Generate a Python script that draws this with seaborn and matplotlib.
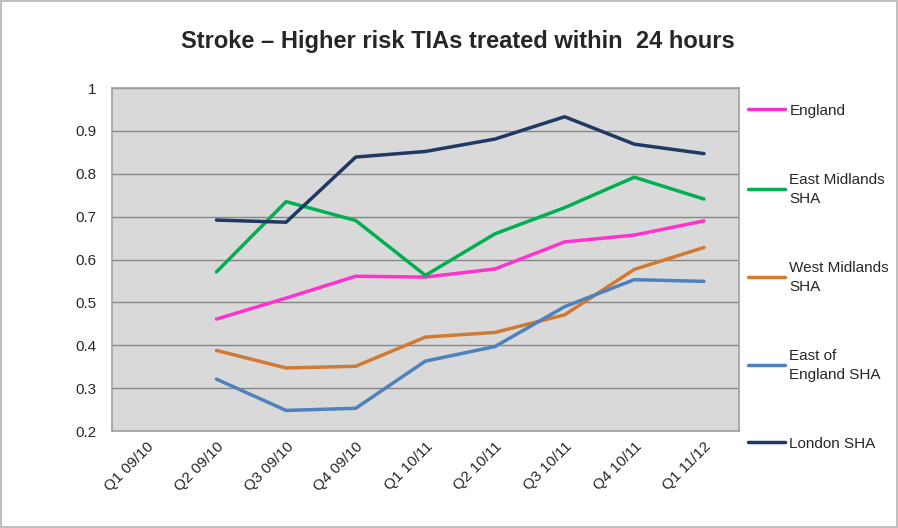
import seaborn as sns
import pandas as pd
import numpy as np
import matplotlib.pyplot as plt

# quarters and series (Q1 09/10 has no data)
quarters = ['Q1 09/10', 'Q2 09/10', 'Q3 09/10', 'Q4 09/10', 'Q1 10/11',
            'Q2 10/11', 'Q3 10/11', 'Q4 10/11', 'Q1 11/12']
england = [np.nan, 0.461, 0.510, 0.561, 0.559, 0.578, 0.641, 0.657, 0.690]
east_midlands = [np.nan, 0.571, 0.735, 0.691, 0.563, 0.660, 0.721, 0.792, 0.741]
west_midlands = [np.nan, 0.388, 0.347, 0.351, 0.419, 0.430, 0.471, 0.577, 0.628]
east_of_england = [np.nan, 0.321, 0.248, 0.253, 0.363, 0.397, 0.490, 0.553, 0.549]
london = [np.nan, 0.692, 0.687, 0.839, 0.852, 0.881, 0.933, 0.869, 0.847]

series_names = ['England', 'East Midlands\nSHA', 'West Midlands\nSHA',
                'East of\nEngland SHA', 'London SHA']
colors = ['#FF33CC', '#00B050', '#D07A32', '#4F81BD', '#1F3864']

df = pd.DataFrame({'x': range(len(quarters)),
                   series_names[0]: england,
                   series_names[1]: east_midlands,
                   series_names[2]: west_midlands,
                   series_names[3]: east_of_england,
                   series_names[4]: london})
long = df.melt(id_vars='x', var_name='series', value_name='value').dropna()

sns.set_style('white')
plt.rcParams['font.family'] = ['Liberation Sans', 'DejaVu Sans']

fig = plt.figure(figsize=(8.98, 5.28), dpi=100, edgecolor='#BFBFBF', linewidth=1.5)
ax = fig.add_axes([0.1247, 0.1837, 0.698, 0.6496])
ax.set_facecolor('#D9D9D9')

sns.lineplot(data=long, x='x', y='value', hue='series', hue_order=series_names,
             palette=colors, linewidth=2.5, ax=ax, sort=True)

ax.set_xlim(-0.5, len(quarters) - 0.5)
ax.set_ylim(0.2, 1.0)
ax.set_yticks(np.arange(0.2, 1.01, 0.1))
ax.set_yticklabels(['0.2', '0.3', '0.4', '0.5', '0.6', '0.7', '0.8', '0.9', '1'],
                   fontsize=11)
ax.set_xticks(range(len(quarters)))
ax.set_xticklabels(quarters, rotation=45, ha='right', rotation_mode='anchor',
                   fontsize=11)
ax.tick_params(axis='y', length=0, pad=11)
ax.tick_params(axis='x', length=0, pad=6)
ax.set_xlabel('')
ax.set_ylabel('')
ax.yaxis.grid(True, color='#868686', linewidth=1)
ax.set_axisbelow(True)
for s in ax.spines.values():
    s.set_color('#A0A0A0')
    s.set_linewidth(1.2)

fig.text(0.51, 0.922, 'Stroke \u2013 Higher risk TIAs treated within  24 hours',
         ha='center', va='center', fontsize=17, fontweight='bold')

leg = ax.legend(loc='upper left', bbox_to_anchor=(1.005, 0.972), frameon=False,
                fontsize=11, labelspacing=3.6, handlelength=2.4, handletextpad=0.3,
                borderaxespad=0)
for t in leg.get_texts():
    t.set_linespacing(1.45)

fig.savefig('out.png', dpi=100, edgecolor=fig.get_edgecolor())
